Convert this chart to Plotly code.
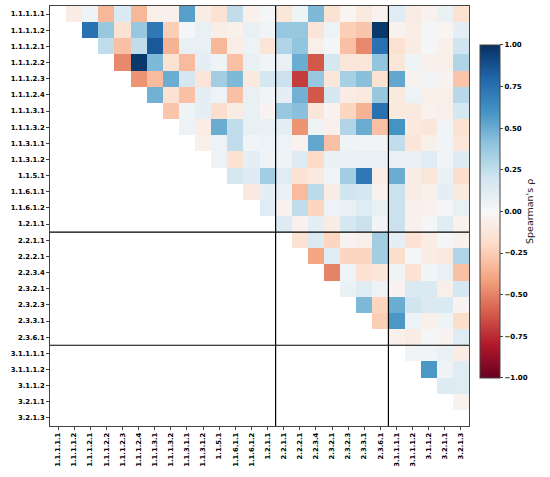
import numpy as np
import plotly.graph_objects as go

labels_g1 = ['1.1.1.1.1', '1.1.1.1.2', '1.1.1.2.1', '1.1.1.2.2', '1.1.1.2.3', '1.1.1.2.4',
             '1.1.1.3.1', '1.1.1.3.2', '1.1.3.1.1', '1.1.3.1.2', '1.1.5.1', '1.1.6.1.1',
             '1.1.6.1.2', '1.2.1.1']
labels_g2 = ['2.2.1.1', '2.2.2.1', '2.2.3.4', '2.3.2.1', '2.3.2.3', '2.3.3.1', '2.3.6.1']
labels_g3 = ['3.1.1.1.1', '3.1.1.1.2', '3.1.1.2', '3.2.1.1', '3.2.1.3']

# upper triangle of Spearman's rho, each row starts just right of the diagonal
rho_g1 = [
    [-0.08, 0.04, -0.33, 0.15, -0.33, -0.06, -0.05, 0.55, -0.08, -0.15, 0.25, -0.05, 0.02,
     -0.12, 0.05, 0.45, -0.15, -0.02, -0.10, -0.04, 0.12, -0.08, -0.04, 0.07, -0.15],
    [0.75, 0.38, -0.15, 0.38, 0.72, -0.25, 0.02, 0.08, -0.07, -0.05, 0.08, 0.03,
     0.38, 0.38, -0.13, 0.06, -0.25, -0.28, 0.97, -0.04, -0.07, 0.02, -0.02, 0.10],
    [0.25, -0.30, 0.25, 0.85, -0.35, 0.08, 0.08, -0.33, -0.07, 0.06, -0.13,
     0.30, 0.40, -0.06, 0.02, -0.30, -0.48, 0.75, -0.15, -0.08, 0.02, -0.05, 0.20],
    [-0.48, 0.97, 0.45, -0.15, -0.32, 0.10, 0.05, -0.30, 0.08, 0.03,
     0.08, 0.50, -0.62, 0.18, -0.12, -0.12, 0.40, -0.12, 0.05, -0.05, -0.06, 0.30],
    [-0.45, -0.32, 0.50, 0.18, -0.13, 0.35, 0.45, -0.10, 0.18,
     0.22, -0.70, 0.38, -0.12, 0.33, 0.42, -0.15, 0.52, -0.04, 0.03, -0.03, -0.28],
    [0.48, -0.15, -0.30, 0.10, 0.06, -0.30, 0.08, 0.03,
     0.10, 0.48, -0.62, 0.18, -0.08, -0.10, 0.38, -0.10, 0.06, -0.06, -0.06, 0.28],
    [-0.28, 0.05, 0.10, -0.18, -0.08, 0.08, -0.03,
     0.38, 0.42, -0.12, -0.03, -0.22, -0.35, 0.75, -0.10, -0.10, -0.04, -0.06, 0.18],
    [0.06, -0.07, 0.50, 0.25, 0.08, 0.08,
     0.10, -0.45, 0.05, -0.05, 0.30, 0.50, -0.30, 0.60, -0.10, -0.12, 0.03, -0.15],
    [-0.05, 0.06, 0.25, 0.03, 0.06,
     0.06, -0.04, 0.52, -0.30, 0.05, 0.03, 0.03, 0.25, -0.13, -0.06, 0.03, -0.12],
    [0.06, -0.15, 0.10, 0.04,
     0.05, 0.13, -0.20, 0.07, 0.08, 0.08, 0.08, 0.08, 0.08, 0.12, 0.03, 0.13],
    [0.18, 0.13, 0.35,
     0.12, -0.15, -0.10, 0.03, 0.35, 0.72, -0.07, 0.50, -0.08, -0.12, 0.07, -0.18],
    [-0.10, 0.10,
     0.08, -0.32, 0.27, -0.08, 0.20, 0.18, -0.04, 0.22, -0.08, -0.05, 0.10, -0.10],
    [0.12,
     -0.04, 0.25, -0.22, 0.06, 0.07, 0.12, 0.07, 0.22, -0.05, -0.04, 0.02, 0.08],
    [0.13, -0.04, 0.10, -0.08, 0.18, 0.22, 0.03, 0.22, -0.05, 0.02, 0.12, -0.04],
]
rho_g2 = [
    [-0.15, 0.15, -0.22, -0.03, -0.06, 0.35, 0.10, -0.15, -0.08, 0.02, -0.05],
    [-0.40, 0.12, -0.22, -0.22, 0.35, -0.18, 0.02, -0.08, -0.10, 0.30],
    [-0.50, 0.03, -0.15, -0.12, 0.04, -0.15, 0.03, 0.08, -0.30],
    [0.07, 0.12, 0.06, -0.03, 0.15, 0.15, -0.06, 0.18],
    [0.45, -0.22, 0.50, 0.20, 0.15, 0.15, -0.03],
    [-0.25, 0.58, 0.06, -0.06, 0.05, -0.18],
    [-0.05, -0.08, 0.02, -0.03, 0.12],
]
rho_g3 = [
    [0.03, 0.03, 0.07, -0.08],
    [0.58, 0.04, 0.12],
    [0.13, 0.12],
    [-0.04],
    [],
]

labels = labels_g1 + labels_g2 + labels_g3
rows = rho_g1 + rho_g2 + rho_g3
n = len(labels)
z = np.full((n, n), np.nan)
for i, row in enumerate(rows):
    z[i, i + 1:i + 1 + len(row)] = row

rdbu = ['#67001f', '#b2182b', '#d6604d', '#f4a582', '#fddbc7', '#f7f7f7',
        '#d1e5f0', '#92c5de', '#4393c3', '#2166ac', '#053061']
colorscale = [[k / (len(rdbu) - 1), c] for k, c in enumerate(rdbu)]

bold = dict(family='DejaVu Sans', size=6.8, color='black', weight='bold')

fig = go.Figure(go.Heatmap(
    z=z,
    x=labels,
    y=labels,
    zmin=-1, zmax=1,
    colorscale=colorscale,
    hoverongaps=False,
    colorbar=dict(
        title=dict(text="Spearman's ρ", side='right',
                   font=dict(family='DejaVu Sans', size=9.5, color='#222')),
        tickvals=[-1, -0.75, -0.5, -0.25, 0, 0.25, 0.5, 0.75, 1],
        tickformat='.2f',
        tickfont=dict(family='DejaVu Sans', size=7, color='black', weight='bold'),
        ticks='outside', ticklen=3,
        thickness=20,
        len=0.793, lenmode='fraction',
        x=1.026, xanchor='left', xpad=0,
        y=0.511, yanchor='middle', ypad=0,
        outlinewidth=1, outlinecolor='#444',
    ),
))

# black lines between the three label groups
for b in [len(labels_g1) - 0.5, len(labels_g1) + len(labels_g2) - 0.5]:
    fig.add_shape(type='line', xref='x', yref='paper', x0=b, x1=b, y0=0, y1=1,
                  line=dict(color='black', width=1.2))
    fig.add_shape(type='line', xref='paper', yref='y', x0=0, x1=1, y0=b, y1=b,
                  line=dict(color='black', width=1.2))

fig.update_xaxes(tickangle=-90, tickfont=bold, ticks='outside', ticklen=3,
                 showline=True, mirror=True, linecolor='#444', linewidth=1,
                 showgrid=False, zeroline=False, automargin=False)
fig.update_yaxes(autorange='reversed', tickfont=bold, ticks='outside', ticklen=3,
                 showline=True, mirror=True, linecolor='#444', linewidth=1,
                 showgrid=False, zeroline=False, automargin=False)

fig.update_layout(
    width=550, height=477,
    margin=dict(l=50, r=81, t=6, b=51, autoexpand=False),
    plot_bgcolor='white',
    paper_bgcolor='white',
)

# drop the browser's default page margin so the figure sits at the window corner
fig.write_html('out.html', config={'displayModeBar': False},
               post_script="document.body.style.margin = '0px';")
